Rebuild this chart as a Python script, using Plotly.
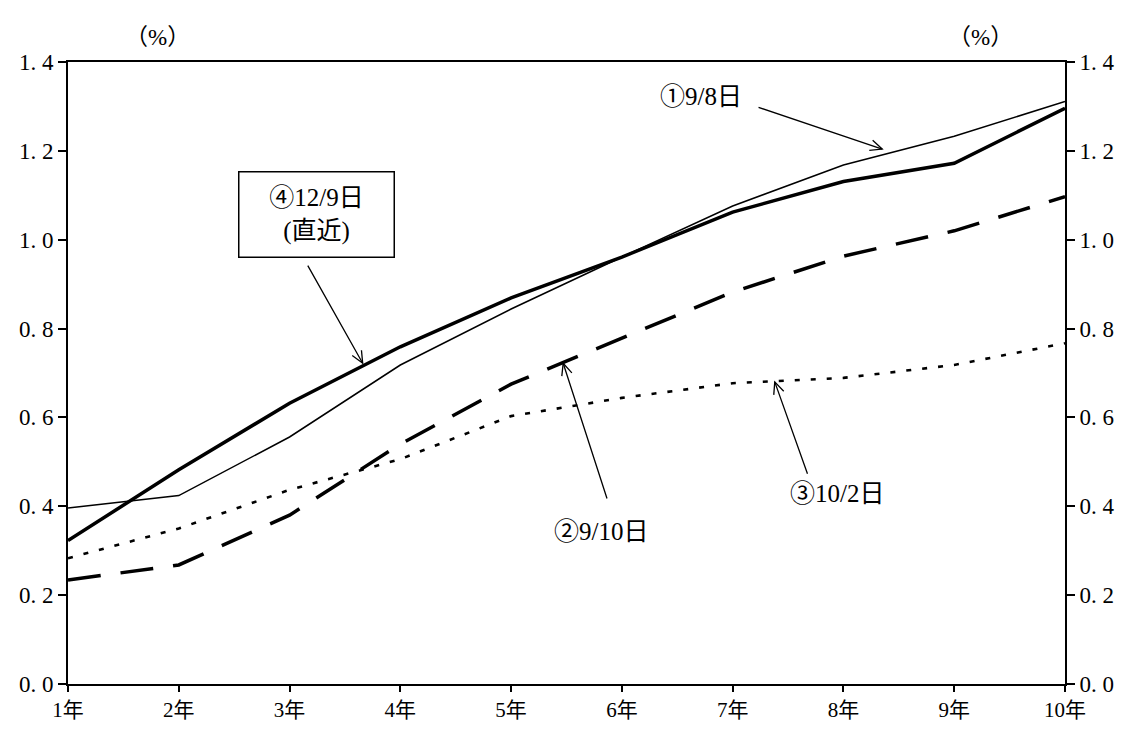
import math
import plotly.graph_objects as go

years = [1, 2, 3, 4, 5, 6, 7, 8, 9, 10]
year_labels = ["1年", "2年", "3年", "4年", "5年", "6年", "7年", "8年", "9年", "10年"]

s1_0908 = [0.396, 0.424, 0.556, 0.718, 0.844, 0.961, 1.076, 1.168, 1.233, 1.311]
s2_0910 = [0.234, 0.268, 0.380, 0.540, 0.675, 0.778, 0.882, 0.963, 1.020, 1.097]
s3_1002 = [0.283, 0.350, 0.437, 0.506, 0.603, 0.644, 0.677, 0.689, 0.718, 0.767]
s4_1209 = [0.323, 0.482, 0.632, 0.759, 0.869, 0.961, 1.062, 1.131, 1.172, 1.296]

y_ticks = [0.0, 0.2, 0.4, 0.6, 0.8, 1.0, 1.2, 1.4]
y_tick_text = ["0. 0", "0. 2", "0. 4", "0. 6", "0. 8", "1. 0", "1. 2", "1. 4"]

FONT = "Liberation Serif, Noto Sans CJK JP, serif"

W, H = 1132, 729
ML, MR, MT, MB = 60, 75, 54, 53
X_RANGE = [1, 10]
Y_RANGE = [0, 1.4]

fig = go.Figure()
fig.add_trace(go.Scatter(x=years, y=s1_0908, mode="lines", name="①9/8日",
                         line=dict(color="black", width=1.5)))
fig.add_trace(go.Scatter(x=years, y=s2_0910, mode="lines", name="②9/10日",
                         line=dict(color="black", width=3.5, dash="33px,20px")))
fig.add_trace(go.Scatter(x=years, y=s3_1002, mode="lines", name="③10/2日",
                         line=dict(color="black", width=2.6, dash="5px,11px")))
fig.add_trace(go.Scatter(x=years, y=s4_1209, mode="lines", name="④12/9日",
                         line=dict(color="black", width=3.5)))
# invisible trace on right axis
fig.add_trace(go.Scatter(x=years, y=s4_1209, yaxis="y2", mode="lines",
                         line=dict(width=0), showlegend=False, hoverinfo="skip"))

fig.update_layout(
    width=W, height=H,
    margin=dict(l=ML, r=MR, t=MT, b=MB),
    paper_bgcolor="white", plot_bgcolor="white",
    showlegend=False,
    font=dict(family=FONT, size=20, color="black"),
    xaxis=dict(range=X_RANGE, tickvals=years, ticktext=year_labels,
               showgrid=False, zeroline=False, showline=True, linecolor="black",
               linewidth=2, mirror=True, ticks="outside", ticklen=6,
               tickcolor="black", tickwidth=2, tickfont=dict(size=21)),
    yaxis=dict(range=Y_RANGE, tickvals=y_ticks, ticktext=y_tick_text,
               showgrid=False, zeroline=False, showline=True, linecolor="black",
               linewidth=2, ticks="outside", ticklen=8, tickcolor="black",
               tickwidth=2, tickfont=dict(size=23)),
    yaxis2=dict(range=Y_RANGE, tickvals=y_ticks, ticktext=y_tick_text,
                overlaying="y", side="right", showgrid=False, zeroline=False,
                showline=True, linecolor="black", linewidth=2, ticks="outside",
                ticklen=8, tickcolor="black", tickwidth=2, tickfont=dict(size=23)),
)

# (%) labels
fig.add_annotation(text="（%）", xref="paper", yref="paper", x=0.055, y=1.063,
                   showarrow=False, font=dict(size=23))
fig.add_annotation(text="（%）", xref="paper", yref="paper", x=0.95, y=1.063,
                   showarrow=False, font=dict(size=23))

# label texts
fig.add_annotation(text="①9/8日", x=6.71, y=1.323, showarrow=False, font=dict(size=25))
fig.add_annotation(text="④12/9日<br>(直近)", x=3.243, y=1.056, showarrow=False,
                   font=dict(size=25), bordercolor="black", borderwidth=1.5,
                   borderpad=6, bgcolor="white", width=142, height=72)
fig.add_annotation(text="②9/10日", x=5.815, y=0.344, showarrow=False, font=dict(size=25))
fig.add_annotation(text="③10/2日", x=7.945, y=0.428, showarrow=False, font=dict(size=25))

# arrows (head x, head y, tail x, tail y)
arrows = [
    (8.35, 1.204, 7.22, 1.299),
    (3.66, 0.722, 3.157, 0.945),
    (5.47, 0.722, 5.87, 0.414),
    (7.38, 0.680, 7.68, 0.470),
]
px_per_x = (W - ML - MR) / (X_RANGE[1] - X_RANGE[0])
px_per_y = (H - MT - MB) / (Y_RANGE[1] - Y_RANGE[0])
HEAD_LEN = 13
HEAD_ANG = math.radians(24)
for hx, hy, tx, ty in arrows:
    fig.add_annotation(x=hx, y=hy, ax=tx, ay=ty, xref="x", yref="y",
                       axref="x", ayref="y", text="", showarrow=True,
                       arrowhead=0, arrowwidth=1.3, arrowcolor="black", standoff=0)
    # open V arrowhead drawn in pixel units at the head point
    dx = (hx - tx) * px_per_x
    dy = (hy - ty) * px_per_y
    ang = math.atan2(dy, dx)
    pts = []
    for s in (1, -1):
        a = ang + math.pi + s * HEAD_ANG
        pts.append((HEAD_LEN * math.cos(a), HEAD_LEN * math.sin(a)))
    path = f"M{pts[0][0]:.2f},{pts[0][1]:.2f} L0,0 L{pts[1][0]:.2f},{pts[1][1]:.2f}"
    fig.add_shape(type="path", xref="x", yref="y", xsizemode="pixel",
                  ysizemode="pixel", xanchor=hx, yanchor=hy, path=path,
                  line=dict(color="black", width=1.3))

fig.write_html("out.html")
